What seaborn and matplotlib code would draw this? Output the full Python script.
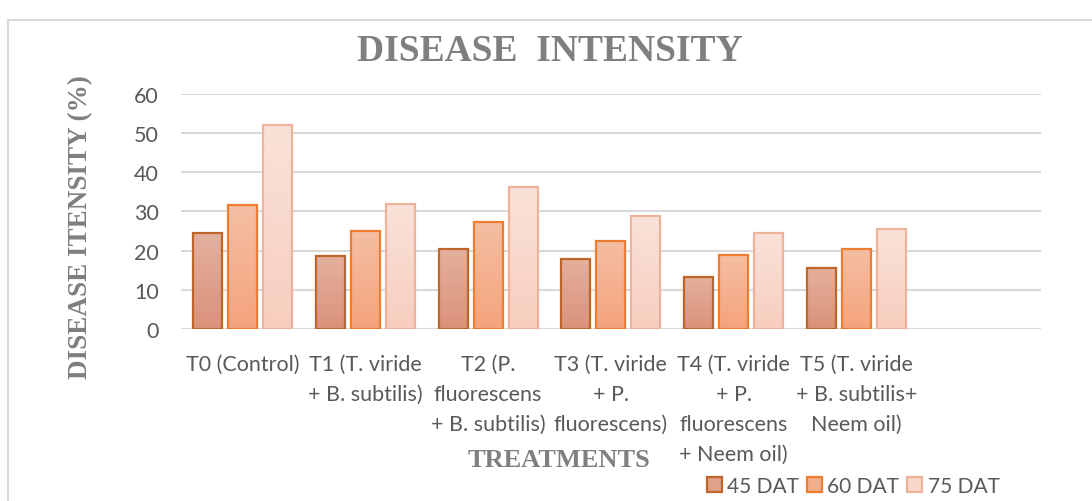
import pandas as pd
import numpy as np
import seaborn as sns
import matplotlib.pyplot as plt
from matplotlib.patches import Patch, Rectangle
from matplotlib.colors import LinearSegmentedColormap

# data
treatments = ["T0 (Control)",
              "T1 (T. viride\n+ B. subtilis)",
              "T2 (P.\nfluorescens\n+ B. subtilis)",
              "T3 (T. viride\n+ P.\nfluorescens)",
              "T4 (T. viride\n+ P.\nfluorescens\n+ Neem oil)",
              "T5 (T. viride\n+ B. subtilis+\nNeem oil)"]
stages = ["45 DAT", "60 DAT", "75 DAT"]
dat45 = [24.5, 18.6, 20.4, 17.9, 13.4, 15.6]
dat60 = [31.7, 24.9, 27.3, 22.5, 19.0, 20.4]
dat75 = [52.2, 32.0, 36.2, 28.8, 24.6, 25.6]

fills = ["#dfa187", "#f4ae8c", "#f8d6c9"]
tops = ["#e4b09e", "#f5bea3", "#fae2d9"]
bottoms = ["#da927a", "#f4a47d", "#f7cebf"]
edges = ["#c0652a", "#ed7d31", "#efb39b"]
grey = "#7f7f7f"
tick_grey = "#595959"

df = pd.DataFrame({
    "Treatment": treatments * 3,
    "Stage": np.repeat(stages, len(treatments)),
    "Intensity": dat45 + dat60 + dat75,
})

sns.set_style("white")
plt.rcParams["font.family"] = ["Lato", "DejaVu Sans"]

fig = plt.figure(figsize=(10.92, 5.02), dpi=100)
ax = fig.add_axes([0.1658, 0.3426, 0.953 - 0.1658, 0.8108 - 0.3426])

sns.barplot(data=df, x="Treatment", y="Intensity", hue="Stage",
            order=treatments, hue_order=stages, palette=fills, saturation=1,
            width=0.854, gap=0.17, errorbar=None, ax=ax, legend=False,
            zorder=3)

# soft vertical gradient inside each bar, like the Excel original
grad = np.linspace(0, 1, 64).reshape(-1, 1)
for cont, ec, top, bot in zip(ax.containers, edges, tops, bottoms):
    cmap = LinearSegmentedColormap.from_list("g", [top, bot])
    for bar in cont:
        bar.set_edgecolor(ec)
        bar.set_linewidth(1.6)
        x0, w, h = bar.get_x(), bar.get_width(), bar.get_height()
        im = ax.imshow(grad, cmap=cmap, extent=[x0, x0 + w, 0, h],
                       aspect="auto", origin="upper", zorder=3.5)
        im.set_clip_path(bar)
        bar.set_facecolor("none")
        bar.set_zorder(4)

# empty seventh slot like the original
ax.set_xlim(-0.5, 6.5)
ax.set_ylim(0, 60)
ax.set_yticks(range(0, 61, 10))
ax.yaxis.grid(True, color="#d9d9d9", linewidth=1.5, zorder=0)
ax.set_axisbelow(True)
for s in ["top", "right", "left", "bottom"]:
    ax.spines[s].set_visible(False)
ax.axhline(0, color="#d9d9d9", linewidth=1.5, zorder=2)

ax.set_xlabel("")
ax.set_ylabel("")
ax.tick_params(axis="y", length=0, pad=16, labelsize=15.5, labelcolor=tick_grey)
ax.tick_params(axis="x", length=0, pad=18, labelsize=15.5, labelcolor=tick_grey)
ax.set_xticks(range(len(treatments)))
ax.set_xticklabels(treatments, linespacing=1.62, va="top", ha="center")

fig.text(0.504, 0.897, "DISEASE  INTENSITY", ha="center", va="center",
         family="Liberation Serif", fontweight="bold", fontsize=27, color=grey)
fig.text(0.512, 0.082, "TREATMENTS", ha="center", va="center",
         family="Liberation Serif", fontweight="bold", fontsize=19, color=grey)
fig.text(0.074, 0.548, "DISEASE ITENSITY (%)", ha="center", va="center",
         rotation=90, family="Liberation Serif", fontweight="bold",
         fontsize=19.5, color=grey)

handles = [Patch(facecolor=f, edgecolor=e, linewidth=1.6) for f, e in zip(fills, edges)]
fig.legend(handles, stages, loc="center", bbox_to_anchor=(853 / 1092, 1 - 487 / 502),
           ncol=3, frameon=False, fontsize=15, handlelength=0.72,
           handleheight=0.72, handletextpad=0.25, columnspacing=0.4,
           labelcolor=tick_grey, borderpad=0, borderaxespad=0)

# chart border
fig.patches.append(Rectangle((0.007, -0.1), 1.1, 1.058, transform=fig.transFigure,
                             fill=False, edgecolor="#d9d9d9", linewidth=1.5))

fig.savefig("out.png", dpi=100)
